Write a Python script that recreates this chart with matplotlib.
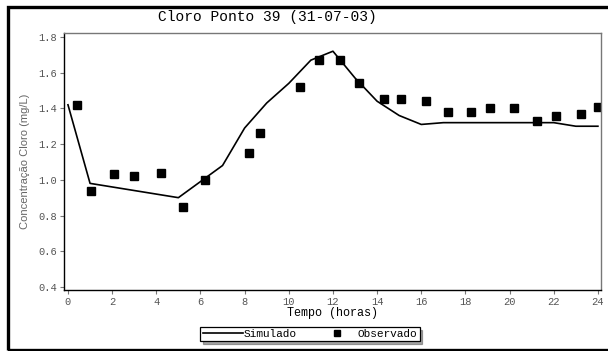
import matplotlib.pyplot as plt
from matplotlib.patches import Rectangle

# simulado (hora a hora)
horas_sim = list(range(25))
cloro_sim = [1.42, 0.98, 0.96, 0.94, 0.92, 0.90, 0.99, 1.08, 1.29, 1.43,
             1.54, 1.67, 1.72, 1.57, 1.44, 1.36, 1.31, 1.32, 1.32, 1.32,
             1.32, 1.32, 1.32, 1.30, 1.30]

# observado
horas_obs = [0.4, 1.05, 2.1, 3.0, 4.2, 5.2, 6.2, 8.2, 8.7, 10.5, 11.35,
             12.3, 13.2, 14.3, 15.1, 16.2, 17.2, 18.25, 19.1, 20.2, 21.25,
             22.1, 23.25, 24.0]
cloro_obs = [1.42, 0.94, 1.03, 1.02, 1.04, 0.85, 1.00, 1.15, 1.26, 1.52,
             1.67, 1.67, 1.54, 1.45, 1.45, 1.44, 1.38, 1.38, 1.40, 1.40,
             1.33, 1.36, 1.37, 1.41]

xticks = list(range(0, 25, 2))
yticks = [0.4, 0.6, 0.8, 1.0, 1.2, 1.4, 1.6, 1.8]

mono = 'Liberation Mono'
cinza = '#777777'

fig = plt.figure(figsize=(6.08, 3.51), dpi=100)
fig.patch.set_facecolor('white')

# moldura externa (sem lado direito visivel)
fig.patches.append(Rectangle((8 / 608, 1 / 351), 1.2, 343 / 351,
                             transform=fig.transFigure, fill=False,
                             edgecolor='black', linewidth=2.4))

ax = fig.add_axes([64 / 608, 61 / 351, 537 / 608, 257 / 351])
ax.plot(horas_sim, cloro_sim, color='black', lw=1.2, label='Simulado')
ax.plot(horas_obs, cloro_obs, ls='none', marker='s', ms=5.5,
        color='black', label='Observado')

ax.set_xlim(-0.18, 24.14)
ax.set_ylim(0.383, 1.822)
ax.set_xticks(xticks)
ax.set_yticks(yticks)
ax.set_yticklabels([f'{v:.1f}' for v in yticks])

for lab in ax.get_xticklabels() + ax.get_yticklabels():
    lab.set_family(mono)
    lab.set_fontsize(7.5)
    lab.set_color('#555555')
ax.tick_params(length=3, width=0.8, color=cinza, pad=2)

ax.spines['left'].set_color('black')
ax.spines['bottom'].set_color('black')
ax.spines['top'].set_color(cinza)
ax.spines['right'].set_color(cinza)
for s in ax.spines.values():
    s.set_linewidth(1)

ax.set_xlabel('Tempo (horas)', family=mono, fontsize=8.5, labelpad=0)
ax.set_ylabel('Concentração Cloro (mg/L)', family='Liberation Sans',
              fontsize=8, color='#666666', labelpad=6)

fig.text(267 / 608, 1 - 17 / 351, 'Cloro Ponto 39 (31-07-03)', family=mono,
         fontsize=10.5, ha='center', va='center')

leg = fig.legend(loc='center', bbox_to_anchor=(310 / 608, 1 - 334 / 351),
                 ncol=2, prop={'family': mono, 'size': 8}, frameon=True,
                 fancybox=False, shadow=True, edgecolor='black',
                 handlelength=3.6, handletextpad=0.1, columnspacing=1.8,
                 borderpad=0.2, borderaxespad=0, markerscale=0.75)
leg.get_frame().set_linewidth(0.9)

fig.savefig('out.png', dpi=100)
